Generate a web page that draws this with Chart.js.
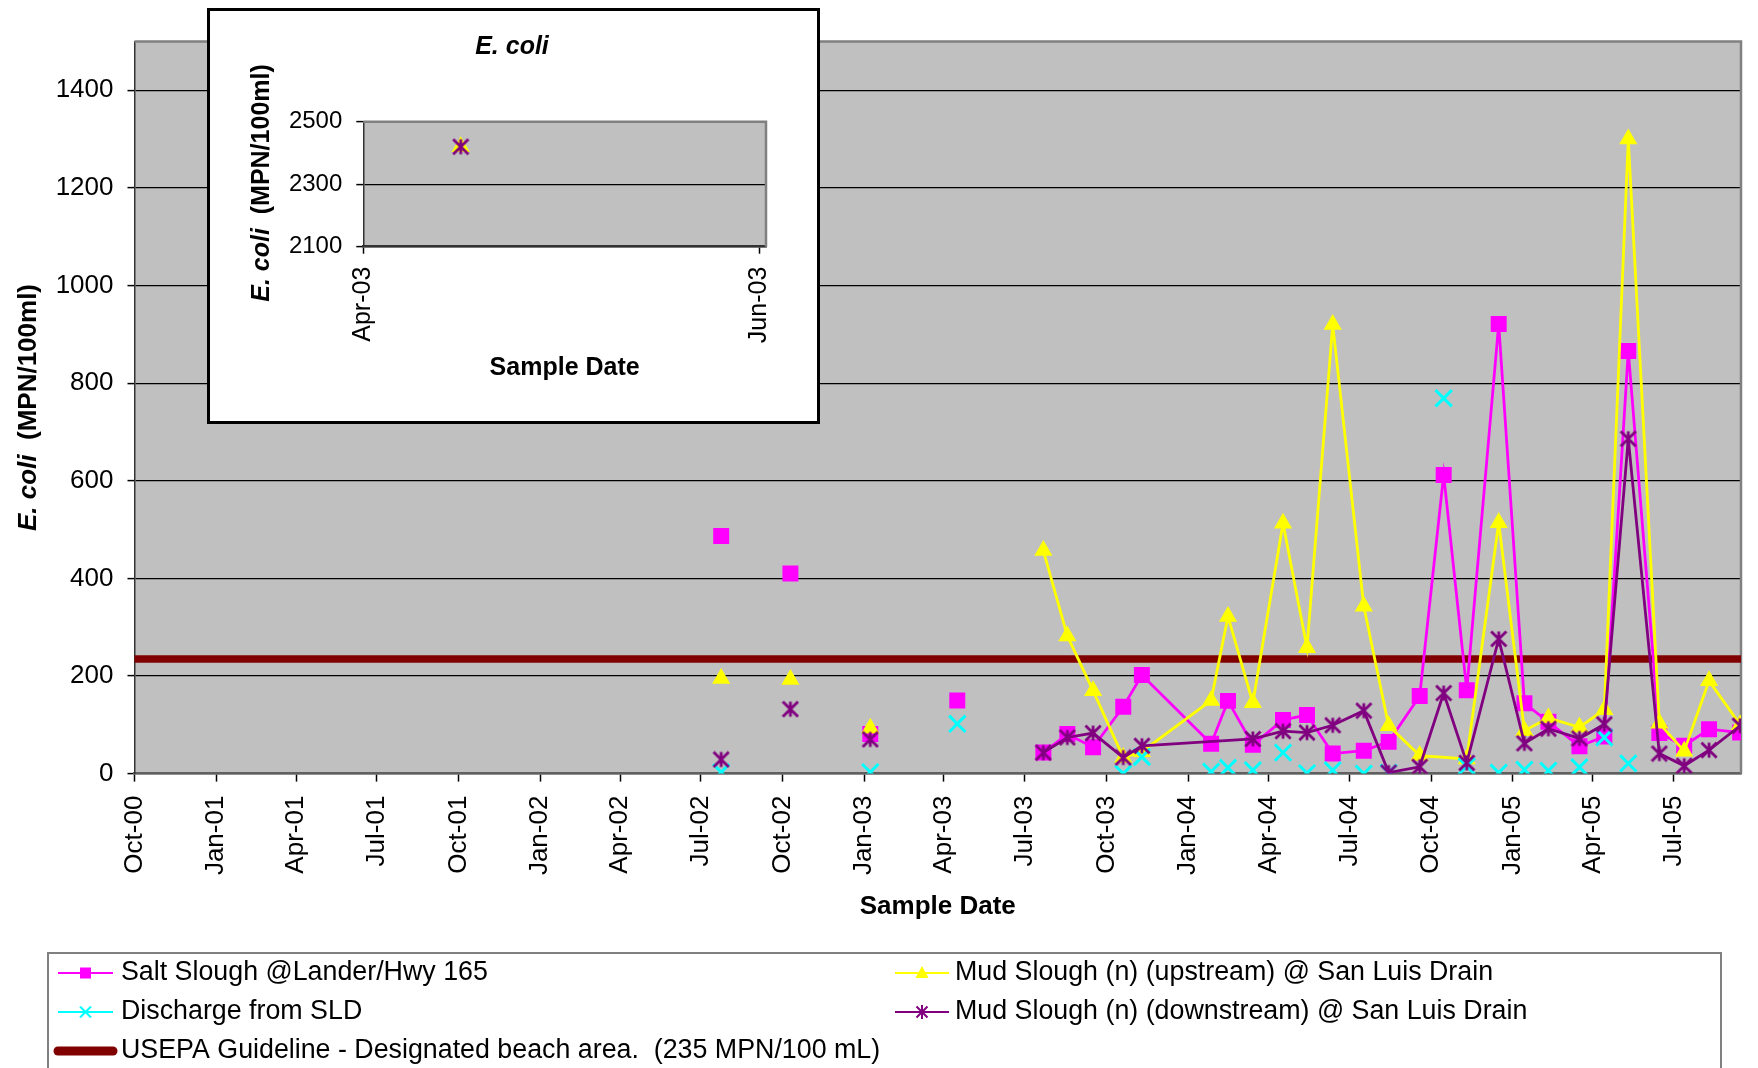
<!DOCTYPE html>
<html>
<head>
<meta charset="utf-8">
<title>E. coli - Sample Date</title>
<script src="https://cdn.jsdelivr.net/npm/chart.js@4.4.1/dist/chart.umd.min.js"></script>
<style>
  html, body { margin: 0; padding: 0; background: #fff; }
  #wrap { position: relative; width: 1758px; height: 1068px; overflow: hidden; }
  #mainChart { position: absolute; left: 0; top: 0; }
  #inset {
    position: absolute; left: 207px; top: 8px; width: 613px; height: 416px;
    box-sizing: border-box; border: 3px solid #000; background: #fff;
  }
  #insetChart { display: block; }
</style>
</head>
<body>
<div id="wrap">
  <canvas id="mainChart" width="1758" height="1068"></canvas>
  <div id="inset"><canvas id="insetChart" width="607" height="410"></canvas></div>
</div>
<script>
// Sample dates shared by all stations (null = no sample for that station)
const sampleDates = [
  "2002-07-24", "2002-10-10", "2003-01-08", "2003-04-16",
  "2003-07-22", "2003-08-18", "2003-09-16", "2003-10-20", "2003-11-10",
  "2004-01-27", "2004-02-15", "2004-03-14", "2004-04-17", "2004-05-14",
  "2004-06-12", "2004-07-17", "2004-08-14", "2004-09-18", "2004-10-15",
  "2004-11-10", "2004-12-16", "2005-01-14", "2005-02-10", "2005-03-17",
  "2005-04-14", "2005-05-11", "2005-06-15", "2005-07-13", "2005-08-10",
  "2005-09-14",
];

// E. coli (MPN/100ml) per station
const saltSlough = [487, 410, 81, 150, 43, 81, 54, 137, 202, 61, 149, 59, 110, 120, 41, 47, 65, 159, 612, 171, 921, 144, 106, 56, 76, 866, 83, 57, 91, 84];
const mudUpstream = [195, 193, 93, 2420, 457, 282, 170, 33, 45, 150, 322, 145, 513, 258, 920, 343, 98, 37, null, 30, 514, 88, 114, 95, 131, 1300, 103, 46, 190, 100];
const dischargeSLD = [3, null, 3, 102, null, null, null, 0, 34, 4, 12, 7, 43, 1, 7, 0, 2, null, 769, 15, 2, 8, 6, 13, 74, 21, null, null, null, null];
const mudDownstream = [29, 132, 70, 2420, 43, 74, 83, 33, 57, null, null, 71, 87, 84, 99, 129, 2, 14, 165, 22, 276, 62, 92, 72, 101, 686, 41, 16, 48, 98];

// USEPA guideline (designated beach area)
const guidelineDates = ["2000-10-01", "2005-09-15"];
const guidelineValues = [235, 235];

// Samples are only joined by lines from this date on
const linesFrom = "2003-07-01";

// Axis ranges and tick labels
const xAxisRange = ["2000-10-01", "2005-09-15"];
const xTickDates = [
  "2000-10-01", "2001-01-01", "2001-04-01", "2001-07-01", "2001-10-01",
  "2002-01-01", "2002-04-01", "2002-07-01", "2002-10-01", "2003-01-01",
  "2003-04-01", "2003-07-01", "2003-10-01", "2004-01-01", "2004-04-01",
  "2004-07-01", "2004-10-01", "2005-01-01", "2005-04-01", "2005-07-01",
];
const yTicks = [0, 200, 400, 600, 800, 1000, 1200, 1400];
const yRange = [0, 1500];

const insetXRange = ["2003-04-01", "2003-06-02"];
const insetXTickDates = ["2003-04-01", "2003-06-01"];
const insetYTicks = [2100, 2300, 2500];
const insetYRange = [2100, 2500];

const FONT = '"Liberation Sans", Arial, Helvetica, sans-serif';
const MONTHS = ["Jan", "Feb", "Mar", "Apr", "May", "Jun", "Jul", "Aug", "Sep", "Oct", "Nov", "Dec"];
const EPOCH = Date.UTC(2000, 9, 1);

// Convert "YYYY-MM-DD" to days since Oct 1, 2000
const toDay = (s) => {
  const [y, m, d] = s.split("-").map(Number);
  return (Date.UTC(y, m - 1, d) - EPOCH) / 86400000;
};

// Format a day number the way Excel does it: "Oct-00"
const dayLabel = (v) => {
  const dt = new Date(EPOCH + v * 86400000);
  return MONTHS[dt.getUTCMonth()] + "-" + String(dt.getUTCFullYear() % 100).padStart(2, "0");
};

const toPoints = (dates, values) =>
  dates
    .map((d, i) => ({ x: toDay(d), y: values[i] }))
    .filter((p) => p.y !== null);

// Asterisk marker (X with a vertical bar), like Excel's star marker
const makeAsterisk = (size, color, lw) => {
  const c = document.createElement("canvas");
  c.width = size;
  c.height = size;
  const g = c.getContext("2d");
  const h = size / 2;
  const r = h - lw / 2;
  g.strokeStyle = color;
  g.lineWidth = lw;
  g.beginPath();
  g.moveTo(h - r, h - r);
  g.lineTo(h + r, h + r);
  g.moveTo(h + r, h - r);
  g.lineTo(h - r, h + r);
  g.moveTo(h, h - r);
  g.lineTo(h, h + r);
  g.stroke();
  return c;
};

const lineStart = toDay(linesFrom);
const segmentColor = (color) => (ctx) =>
  ctx.p0.parsed.x < lineStart ? "rgba(0,0,0,0)" : color;

// Build the datasets (used by the main chart and the inset)
const makeDatasets = () => [
  {
    label: "Salt Slough @Lander/Hwy 165",
    data: toPoints(sampleDates, saltSlough),
    borderColor: "#FF00FF",
    backgroundColor: "#FF00FF",
    borderWidth: 2.8,
    pointStyle: "rect",
    pointRadius: 11.3,
    pointBorderWidth: 0,
    segment: { borderColor: segmentColor("#FF00FF") },
    order: 4,
    legendMarker: "square",
    legendLineWidth: 2,
  },
  {
    label: "Mud Slough (n) (upstream) @ San Luis Drain",
    data: toPoints(sampleDates, mudUpstream),
    borderColor: "#FFFF00",
    backgroundColor: "#FFFF00",
    borderWidth: 2.8,
    pointStyle: "triangle",
    pointRadius: 10.5,
    pointBorderWidth: 0,
    segment: { borderColor: segmentColor("#FFFF00") },
    order: 3,
    legendMarker: "triangle",
    legendLineWidth: 2,
  },
  {
    label: "Discharge from SLD",
    data: toPoints(sampleDates, dischargeSLD),
    borderColor: "#00FFFF",
    backgroundColor: "#00FFFF",
    showLine: false,
    pointStyle: "crossRot",
    pointRadius: 11.5,
    pointBorderWidth: 3,
    order: 2,
    legendMarker: "cross",
    legendLineWidth: 2,
  },
  {
    label: "Mud Slough (n) (downstream) @ San Luis Drain",
    data: toPoints(sampleDates, mudDownstream),
    borderColor: "#800080",
    backgroundColor: "#800080",
    borderWidth: 2.8,
    pointStyle: makeAsterisk(18, "#800080", 2.8),
    pointRadius: 9,
    segment: { borderColor: segmentColor("#800080") },
    order: 1,
    legendMarker: "asterisk",
    legendLineWidth: 2,
  },
  {
    label: "USEPA Guideline - Designated beach area.  (235 MPN/100 mL)",
    data: toPoints(guidelineDates, guidelineValues),
    borderColor: "#800000",
    backgroundColor: "#800000",
    borderWidth: 7.5,
    borderCapStyle: "round",
    pointRadius: 0,
    order: 5,
    legendMarker: null,
    legendLineWidth: 9,
  },
];

// Small marker shapes for the legend
const drawLegendMarker = (ctx, kind, x, y, color) => {
  ctx.save();
  ctx.fillStyle = color;
  ctx.strokeStyle = color;
  ctx.lineWidth = 2;
  ctx.lineCap = "butt";
  ctx.beginPath();
  if (kind === "square") {
    ctx.fillRect(x - 5.5, y - 5.5, 11, 11);
  } else if (kind === "triangle") {
    ctx.moveTo(x, y - 7);
    ctx.lineTo(x + 6.5, y + 5);
    ctx.lineTo(x - 6.5, y + 5);
    ctx.closePath();
    ctx.fill();
  } else if (kind === "cross") {
    ctx.moveTo(x - 5.5, y - 5.5);
    ctx.lineTo(x + 5.5, y + 5.5);
    ctx.moveTo(x + 5.5, y - 5.5);
    ctx.lineTo(x - 5.5, y + 5.5);
    ctx.stroke();
  } else if (kind === "asterisk") {
    ctx.moveTo(x - 5.5, y - 5.5);
    ctx.lineTo(x + 5.5, y + 5.5);
    ctx.moveTo(x + 5.5, y - 5.5);
    ctx.lineTo(x - 5.5, y + 5.5);
    ctx.moveTo(x, y - 7);
    ctx.lineTo(x, y + 7);
    ctx.stroke();
  }
  ctx.restore();
};

// Grey plot area with a grey frame on top and right
const plotFrame = {
  id: "plotFrame",
  beforeDraw: (chart, args, opts) => {
    const { ctx, chartArea: a } = chart;
    ctx.save();
    ctx.fillStyle = opts.fill;
    ctx.fillRect(a.left, a.top, a.right - a.left, a.bottom - a.top);
    ctx.restore();
  },
  beforeDatasetsDraw: (chart, args, opts) => {
    const { ctx, chartArea: a } = chart;
    ctx.save();
    ctx.strokeStyle = opts.border;
    ctx.lineWidth = opts.borderWidth;
    ctx.beginPath();
    ctx.moveTo(a.left, a.top);
    ctx.lineTo(a.right, a.top);
    ctx.lineTo(a.right, a.bottom);
    ctx.stroke();
    ctx.restore();
  },
};

// Free text (titles) made of parts with their own font, optionally rotated
const textLabels = {
  id: "textLabels",
  afterDraw: (chart, args, opts) => {
    const { ctx } = chart;
    (opts.items || []).forEach((item) => {
      ctx.save();
      ctx.translate(item.x, item.y);
      ctx.rotate(item.rotation || 0);
      ctx.fillStyle = "#000";
      ctx.textBaseline = "middle";
      ctx.textAlign = "left";
      const widths = item.parts.map((p) => {
        ctx.font = p.font;
        return ctx.measureText(p.text).width;
      });
      let x = -widths.reduce((s, w) => s + w, 0) / 2;
      item.parts.forEach((p, i) => {
        ctx.font = p.font;
        ctx.fillText(p.text, x, 0);
        x += widths[i];
      });
      ctx.restore();
    });
  },
};

// Boxed legend in two columns under the chart
const legendBox = {
  id: "legendBox",
  afterDraw: (chart, args, opts) => {
    if (!opts.items) return;
    const { ctx } = chart;
    ctx.save();
    ctx.strokeStyle = "#808080";
    ctx.lineWidth = 2;
    ctx.strokeRect(opts.box[0], opts.box[1], opts.box[2], opts.box[3]);
    ctx.font = `${opts.fontSize}px ${FONT}`;
    ctx.textBaseline = "middle";
    ctx.textAlign = "left";
    opts.items.forEach((item) => {
      const ds = chart.data.datasets[item.dataset];
      const col = opts.columns[item.col];
      const y = opts.rows[item.row];
      ctx.strokeStyle = ds.borderColor;
      ctx.lineWidth = ds.legendLineWidth;
      ctx.lineCap = ds.borderCapStyle || "butt";
      ctx.beginPath();
      ctx.moveTo(col.lineFrom, y);
      ctx.lineTo(col.lineTo, y);
      ctx.stroke();
      if (ds.legendMarker) {
        drawLegendMarker(ctx, ds.legendMarker, (col.lineFrom + col.lineTo) / 2, y, ds.borderColor);
      }
      ctx.fillStyle = "#000";
      ctx.fillText(ds.label, col.text, y);
    });
    ctx.restore();
  },
};

Chart.defaults.font.family = FONT;
Chart.defaults.color = "#000";

const yTitleParts = (size) => [
  { text: "E. coli", font: `italic bold ${size}px ${FONT}` },
  { text: "  (MPN/100ml)", font: `bold ${size}px ${FONT}` },
];

// Function to build the main chart
const buildMainChart = () => {
  const ctx = document.getElementById("mainChart").getContext("2d");
  new Chart(ctx, {
    type: "line",
    data: { datasets: makeDatasets() },
    plugins: [plotFrame, textLabels, legendBox],
    options: {
      responsive: false,
      animation: false,
      events: [],
      layout: { padding: { left: 0, top: 41.5, right: 17, bottom: 130 } },
      plugins: {
        legend: { display: false },
        tooltip: { enabled: false },
        plotFrame: { fill: "#C0C0C0", border: "#808080", borderWidth: 2.5 },
        textLabels: {
          items: [{ x: 28.5, y: 407.5, rotation: -Math.PI / 2, parts: yTitleParts(26) }],
        },
        legendBox: {
          fontSize: 26.8,
          box: [48, 953, 1673, 130],
          rows: [973, 1012, 1051],
          columns: [
            { lineFrom: 58, lineTo: 113, text: 121 },
            { lineFrom: 895, lineTo: 949, text: 955 },
          ],
          items: [
            { dataset: 0, col: 0, row: 0 },
            { dataset: 1, col: 1, row: 0 },
            { dataset: 2, col: 0, row: 1 },
            { dataset: 3, col: 1, row: 1 },
            { dataset: 4, col: 0, row: 2 },
          ],
        },
      },
      scales: {
        x: {
          type: "linear",
          min: toDay(xAxisRange[0]),
          max: toDay(xAxisRange[1]),
          afterBuildTicks: (scale) => {
            scale.ticks = xTickDates.map((d) => ({ value: toDay(d) }));
          },
          afterFit: (scale) => {
            scale.height = 164.4;
          },
          ticks: {
            autoSkip: false,
            minRotation: 90,
            maxRotation: 90,
            padding: 14,
            font: { size: 26 },
            callback: (v) => dayLabel(v),
          },
          grid: { drawOnChartArea: false, tickLength: 8, tickColor: "#000", tickWidth: 1.5 },
          border: { color: "#606060", width: 2.5 },
          title: {
            display: true,
            text: "Sample Date",
            font: { size: 26, weight: "bold" },
            padding: { top: 0, bottom: 16 },
          },
        },
        y: {
          min: yRange[0],
          max: yRange[1],
          afterBuildTicks: (scale) => {
            scale.ticks = yTicks.map((v) => ({ value: v }));
          },
          afterFit: (scale) => {
            scale.width = 134.5;
          },
          ticks: { padding: 14, font: { size: 26 }, callback: (v) => String(v) },
          grid: { color: "#000", lineWidth: 1.2, tickLength: 7, tickColor: "#000", tickWidth: 1.5 },
          border: { color: "#333", width: 1.5 },
        },
      },
    },
  });
};

// Function to build the inset chart (the off-scale Apr-03 sample)
const buildInsetChart = () => {
  const ctx = document.getElementById("insetChart").getContext("2d");
  new Chart(ctx, {
    type: "line",
    data: { datasets: makeDatasets() },
    plugins: [plotFrame, textLabels],
    options: {
      responsive: false,
      animation: false,
      events: [],
      layout: { padding: { left: 0, top: 110.7, right: 51, bottom: 25 } },
      plugins: {
        legend: { display: false },
        tooltip: { enabled: false },
        plotFrame: { fill: "#C0C0C0", border: "#808080", borderWidth: 2.5 },
        textLabels: {
          items: [
            { x: 302, y: 36, parts: [{ text: "E. coli", font: `italic bold 25px ${FONT}` }] },
            { x: 52, y: 172, rotation: -Math.PI / 2, parts: yTitleParts(25) },
          ],
        },
      },
      scales: {
        x: {
          type: "linear",
          min: toDay(insetXRange[0]),
          max: toDay(insetXRange[1]),
          afterBuildTicks: (scale) => {
            scale.ticks = insetXTickDates.map((d) => ({ value: toDay(d) }));
          },
          afterFit: (scale) => {
            scale.height = 149.3;
          },
          ticks: {
            autoSkip: false,
            minRotation: 90,
            maxRotation: 90,
            padding: 13,
            font: { size: 25 },
            callback: (v) => dayLabel(v),
          },
          grid: { drawOnChartArea: false, tickLength: 7, tickColor: "#000", tickWidth: 1.5 },
          border: { color: "#333", width: 2.5 },
          title: {
            display: true,
            text: "Sample Date",
            font: { size: 25, weight: "bold" },
            padding: { top: 0, bottom: 13 },
          },
        },
        y: {
          min: insetYRange[0],
          max: insetYRange[1],
          afterBuildTicks: (scale) => {
            scale.ticks = insetYTicks.map((v) => ({ value: v }));
          },
          afterFit: (scale) => {
            scale.width = 153.3;
          },
          ticks: { padding: 14, font: { size: 24 }, callback: (v) => String(v) },
          grid: { color: "#000", lineWidth: 1.2, tickLength: 7, tickColor: "#000", tickWidth: 1.5 },
          border: { color: "#333", width: 1.5 },
        },
      },
    },
  });
};

document.addEventListener("DOMContentLoaded", () => {
  buildMainChart();
  buildInsetChart();
});
</script>
</body>
</html>
